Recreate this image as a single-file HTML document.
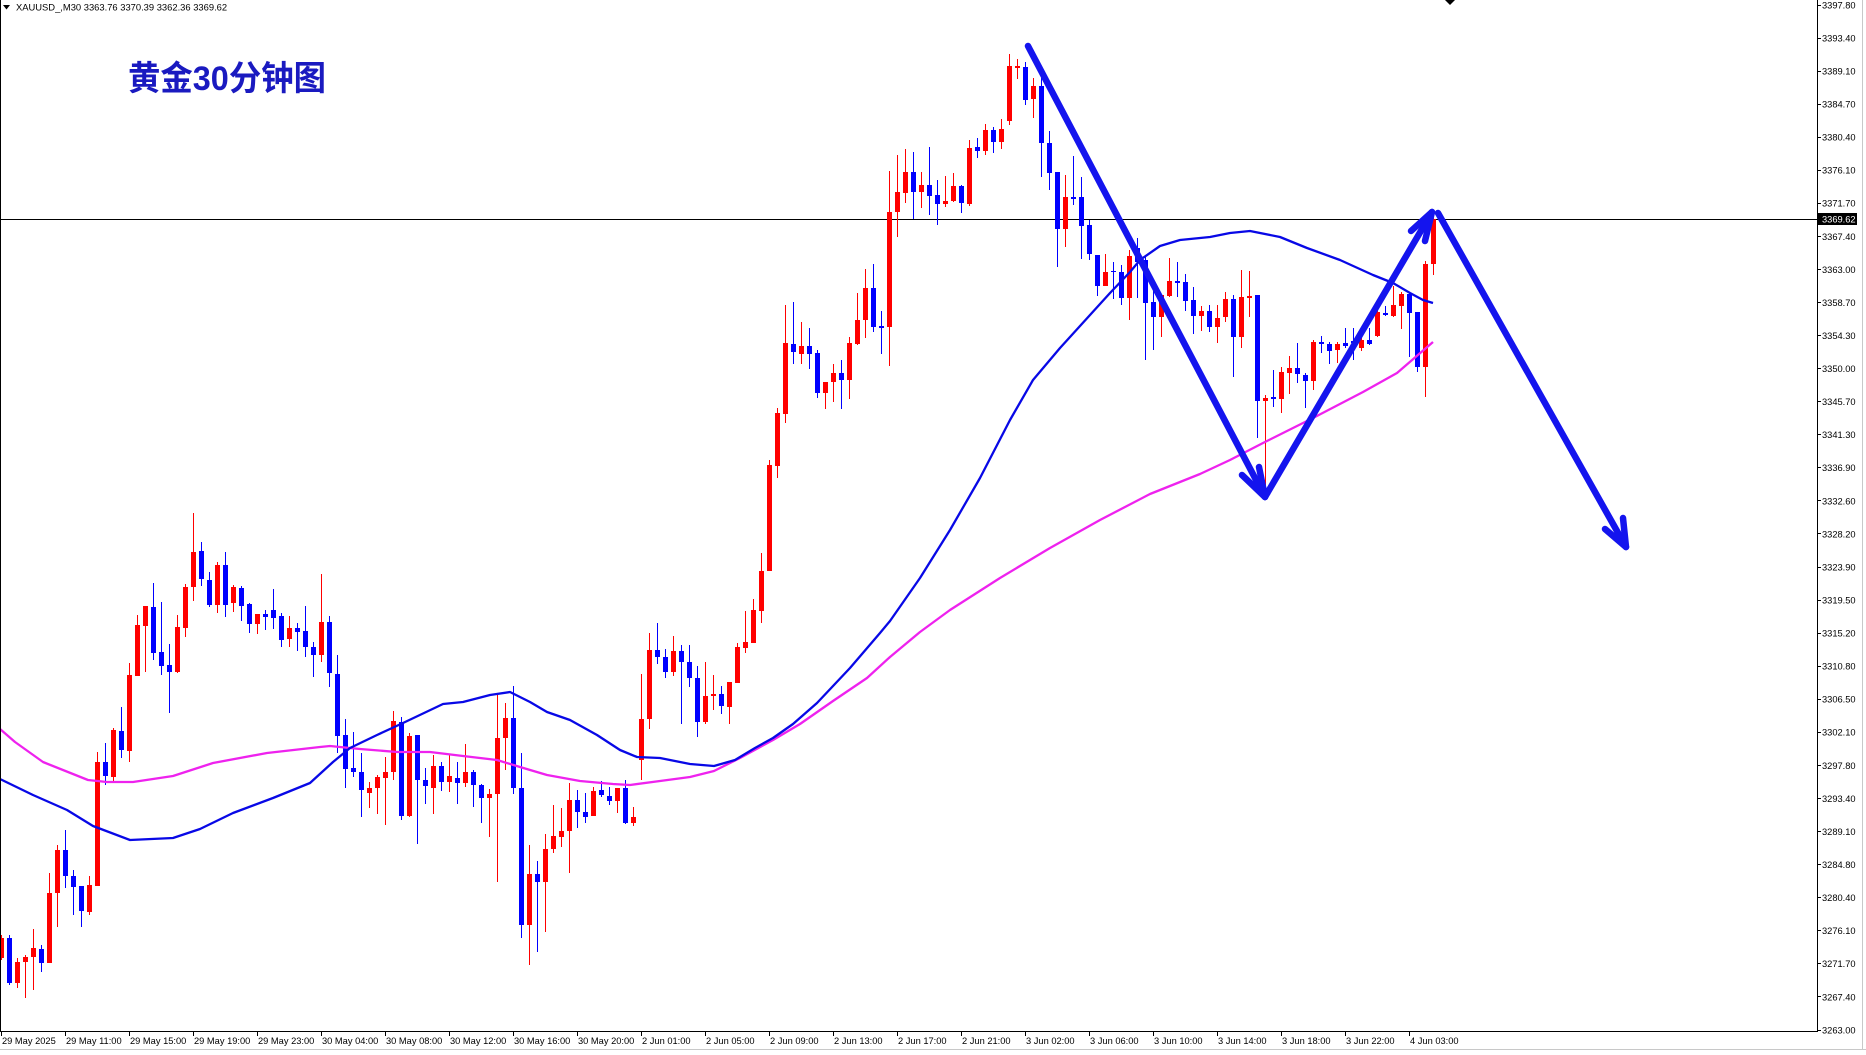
<!DOCTYPE html>
<html><head><meta charset="utf-8"><style>
html,body{margin:0;padding:0;background:#fff;}
svg{display:block;}
.ax{font-family:"Liberation Sans",Arial,sans-serif;font-size:9.3px;fill:#000;}
</style></head><body>
<svg width="1866" height="1055" viewBox="0 0 1866 1055" xmlns="http://www.w3.org/2000/svg">
<rect width="1866" height="1055" fill="#fff"/>
<!-- current price line -->
<line x1="0" y1="219.5" x2="1817" y2="219.5" stroke="#000" stroke-width="1"/>
<!-- candles -->
<path fill="#ff0000" d="M1 935h1V960h-1Z M-1 938h5V958h-5Z
M17 958h1V988h-1Z M15 962h5V983h-5Z M25 955h1V998h-1Z M23 957h5V962h-5Z M33 929h1V990h-1Z M31 948h5V957h-5Z
M49 873h1V963h-1Z M47 893h5V963h-5Z M57 845h1V927h-1Z M55 850h5V893h-5Z M89 876h1V915h-1Z M87 885h5V912h-5Z
M97 752h1V886h-1Z M95 762h5V886h-5Z M113 728h1V782h-1Z M111 730h5V777h-5Z M129 663h1V762h-1Z M127 675h5V751h-5Z
M137 615h1V676h-1Z M135 625h5V676h-5Z M145 606h1V672h-1Z M143 606h5V626h-5Z M177 615h1V673h-1Z M175 627h5V672h-5Z
M185 584h1V637h-1Z M183 587h5V628h-5Z M193 513h1V601h-1Z M191 552h5V587h-5Z M217 562h1V613h-1Z M215 565h5V605h-5Z
M233 585h1V612h-1Z M231 587h5V603h-5Z M257 614h1V634h-1Z M255 614h5V624h-5Z M289 616h1V647h-1Z M287 628h5V639h-5Z
M321 574h1V662h-1Z M319 622h5V655h-5Z M369 782h1V808h-1Z M367 788h5V793h-5Z M377 775h1V814h-1Z M375 777h5V788h-5Z
M385 757h1V825h-1Z M383 772h5V778h-5Z M393 711h1V780h-1Z M391 721h5V772h-5Z M409 733h1V817h-1Z M407 736h5V816h-5Z
M433 755h1V814h-1Z M431 766h5V788h-5Z M449 755h1V792h-1Z M447 776h5V782h-5Z M465 744h1V787h-1Z M463 772h5V783h-5Z
M489 789h1V837h-1Z M487 794h5V798h-5Z M497 695h1V882h-1Z M495 738h5V794h-5Z M505 703h1V770h-1Z M503 718h5V738h-5Z
M529 845h1V965h-1Z M527 874h5V925h-5Z M545 834h1V932h-1Z M543 849h5V882h-5Z M553 805h1V853h-1Z M551 836h5V849h-5Z
M561 808h1V847h-1Z M559 831h5V837h-5Z M569 783h1V873h-1Z M567 800h5V831h-5Z M593 787h1V816h-1Z M591 791h5V816h-5Z
M617 788h1V813h-1Z M615 788h5V801h-5Z M633 807h1V826h-1Z M631 817h5V823h-5Z M641 674h1V780h-1Z M639 719h5V760h-5Z
M649 633h1V729h-1Z M647 650h5V719h-5Z M673 636h1V676h-1Z M671 651h5V672h-5Z M705 662h1V724h-1Z M703 696h5V722h-5Z
M713 675h1V710h-1Z M711 694h5V696h-5Z M729 682h1V724h-1Z M727 682h5V707h-5Z M737 643h1V683h-1Z M735 647h5V683h-5Z
M745 611h1V653h-1Z M743 642h5V648h-5Z M753 599h1V643h-1Z M751 610h5V643h-5Z M761 553h1V623h-1Z M759 571h5V611h-5Z
M769 460h1V571h-1Z M767 465h5V571h-5Z M777 408h1V478h-1Z M775 413h5V466h-5Z M785 305h1V423h-1Z M783 343h5V414h-5Z
M801 322h1V364h-1Z M799 346h5V354h-5Z M825 382h1V409h-1Z M823 382h5V393h-5Z M833 364h1V402h-1Z M831 373h5V382h-5Z
M849 337h1V399h-1Z M847 343h5V380h-5Z M857 293h1V345h-1Z M855 320h5V344h-5Z M865 269h1V338h-1Z M863 288h5V320h-5Z
M889 171h1V366h-1Z M887 212h5V327h-5Z M897 155h1V237h-1Z M895 192h5V212h-5Z M905 149h1V203h-1Z M903 172h5V193h-5Z
M921 172h1V208h-1Z M919 185h5V192h-5Z M945 176h1V207h-1Z M943 201h5V204h-5Z M953 173h1V202h-1Z M951 186h5V201h-5Z
M969 140h1V206h-1Z M967 148h5V204h-5Z M985 124h1V155h-1Z M983 130h5V151h-5Z M1001 119h1V149h-1Z M999 129h5V142h-5Z
M1009 54h1V125h-1Z M1007 66h5V121h-5Z M1017 59h1V79h-1Z M1015 66h5V68h-5Z M1033 78h1V118h-1Z M1031 86h5V99h-5Z
M1065 175h1V247h-1Z M1063 197h5V229h-5Z M1105 254h1V286h-1Z M1103 272h5V286h-5Z M1129 250h1V320h-1Z M1127 256h5V298h-5Z
M1161 295h1V337h-1Z M1159 295h5V317h-5Z M1169 258h1V297h-1Z M1167 281h5V296h-5Z M1201 306h1V331h-1Z M1199 311h5V316h-5Z
M1217 305h1V343h-1Z M1215 318h5V327h-5Z M1225 292h1V322h-1Z M1223 299h5V317h-5Z M1241 270h1V348h-1Z M1239 297h5V337h-5Z
M1249 271h1V317h-1Z M1247 296h5V298h-5Z M1265 395h1V493h-1Z M1263 398h5V401h-5Z M1281 367h1V413h-1Z M1279 372h5V399h-5Z
M1289 356h1V394h-1Z M1287 368h5V373h-5Z M1313 340h1V390h-1Z M1311 342h5V381h-5Z M1337 342h1V363h-1Z M1335 344h5V350h-5Z
M1361 337h1V351h-1Z M1359 340h5V348h-5Z M1377 305h1V337h-1Z M1375 312h5V336h-5Z M1393 286h1V317h-1Z M1391 305h5V316h-5Z
M1401 292h1V329h-1Z M1399 294h5V306h-5Z M1425 261h1V397h-1Z M1423 264h5V367h-5Z M1433 213h1V275h-1Z M1431 219h5V264h-5Z"/>
<path fill="#0000ff" d="M9 935h1V985h-1Z M7 938h5V983h-5Z M41 945h1V972h-1Z M39 949h5V963h-5Z
M65 830h1V888h-1Z M63 850h5V876h-5Z M73 870h1V915h-1Z M71 876h5V887h-5Z M81 886h1V927h-1Z M79 886h5V911h-5Z
M105 743h1V785h-1Z M103 762h5V776h-5Z M121 707h1V758h-1Z M119 731h5V750h-5Z M153 583h1V660h-1Z M151 607h5V653h-5Z
M161 602h1V675h-1Z M159 652h5V666h-5Z M169 644h1V713h-1Z M167 665h5V672h-5Z M201 542h1V586h-1Z M199 551h5V579h-5Z
M209 572h1V607h-1Z M207 580h5V605h-5Z M225 552h1V617h-1Z M223 565h5V605h-5Z M241 586h1V621h-1Z M239 588h5V606h-5Z
M249 603h1V633h-1Z M247 604h5V624h-5Z M265 610h1V630h-1Z M263 614h5V617h-5Z M273 589h1V629h-1Z M271 610h5V618h-5Z
M281 613h1V647h-1Z M279 616h5V640h-5Z M297 623h1V651h-1Z M295 628h5V632h-5Z M305 606h1V657h-1Z M303 631h5V647h-5Z
M313 642h1V677h-1Z M311 647h5V655h-5Z M329 616h1V687h-1Z M327 622h5V673h-5Z M337 655h1V753h-1Z M335 674h5V736h-5Z
M345 719h1V788h-1Z M343 735h5V769h-5Z M353 732h1V777h-1Z M351 768h5V772h-5Z M361 753h1V817h-1Z M359 772h5V790h-5Z
M401 717h1V820h-1Z M399 722h5V816h-5Z M417 735h1V844h-1Z M415 735h5V780h-5Z M425 768h1V804h-1Z M423 780h5V786h-5Z
M441 762h1V791h-1Z M439 766h5V782h-5Z M457 762h1V804h-1Z M455 778h5V783h-5Z M473 770h1V807h-1Z M471 772h5V785h-5Z
M481 784h1V823h-1Z M479 785h5V798h-5Z M513 686h1V794h-1Z M511 718h5V788h-5Z M521 753h1V938h-1Z M519 788h5V925h-5Z
M537 861h1V952h-1Z M535 874h5V882h-5Z M577 790h1V828h-1Z M575 800h5V812h-5Z M585 793h1V823h-1Z M583 812h5V817h-5Z
M601 781h1V797h-1Z M599 790h5V795h-5Z M609 787h1V805h-1Z M607 796h5V801h-5Z M625 780h1V824h-1Z M623 788h5V823h-5Z
M657 623h1V664h-1Z M655 650h5V657h-5Z M665 649h1V678h-1Z M663 657h5V672h-5Z M681 645h1V724h-1Z M679 651h5V662h-5Z
M689 645h1V687h-1Z M687 662h5V678h-5Z M697 666h1V737h-1Z M695 678h5V722h-5Z M721 686h1V714h-1Z M719 694h5V706h-5Z
M793 302h1V364h-1Z M791 344h5V352h-5Z M809 328h1V369h-1Z M807 346h5V354h-5Z M817 350h1V398h-1Z M815 353h5V393h-5Z
M841 360h1V409h-1Z M839 373h5V380h-5Z M873 264h1V332h-1Z M871 288h5V327h-5Z M881 311h1V354h-1Z M879 326h5V328h-5Z
M913 152h1V219h-1Z M911 172h5V192h-5Z M929 147h1V215h-1Z M927 185h5V196h-5Z M937 180h1V225h-1Z M935 195h5V204h-5Z
M961 185h1V213h-1Z M959 186h5V203h-5Z M977 138h1V158h-1Z M975 147h5V151h-5Z M993 127h1V153h-1Z M991 130h5V142h-5Z
M1025 62h1V105h-1Z M1023 67h5V100h-5Z M1041 78h1V177h-1Z M1039 86h5V143h-5Z M1049 131h1V190h-1Z M1047 143h5V173h-5Z
M1057 172h1V267h-1Z M1055 172h5V229h-5Z M1073 156h1V205h-1Z M1071 197h5V199h-5Z M1081 177h1V259h-1Z M1079 197h5V226h-5Z
M1089 220h1V260h-1Z M1087 225h5V254h-5Z M1097 255h1V296h-1Z M1095 255h5V286h-5Z M1113 262h1V299h-1Z M1111 271h5V272h-5Z
M1121 265h1V305h-1Z M1119 272h5V298h-5Z M1137 238h1V298h-1Z M1135 248h5V262h-5Z M1145 255h1V360h-1Z M1143 260h5V303h-5Z
M1153 287h1V350h-1Z M1151 302h5V317h-5Z M1177 262h1V297h-1Z M1175 281h5V283h-5Z M1185 274h1V311h-1Z M1183 282h5V301h-5Z
M1193 287h1V334h-1Z M1191 300h5V316h-5Z M1209 305h1V332h-1Z M1207 311h5V327h-5Z M1233 295h1V377h-1Z M1231 299h5V337h-5Z
M1257 295h1V438h-1Z M1255 295h5V401h-5Z M1273 370h1V407h-1Z M1271 397h5V399h-5Z M1297 343h1V383h-1Z M1295 368h5V374h-5Z
M1305 373h1V408h-1Z M1303 375h5V381h-5Z M1321 336h1V353h-1Z M1319 342h5V344h-5Z M1329 342h1V364h-1Z M1327 344h5V351h-5Z
M1345 328h1V348h-1Z M1343 343h5V346h-5Z M1353 328h1V360h-1Z M1351 341h5V343h-5Z M1369 328h1V345h-1Z M1367 340h5V344h-5Z
M1385 306h1V316h-1Z M1383 313h5V315h-5Z M1409 292h1V357h-1Z M1407 294h5V313h-5Z M1417 312h1V372h-1Z M1415 312h5V367h-5Z"/>
<!-- moving averages -->
<polyline fill="none" stroke="#ee22ee" stroke-width="2.3" stroke-linejoin="round" points="0,729 15,742 43,762 88,780 107,782 133,782 173,776 213,763 267,753 320,747 330,746 360,749 397,752 430,752 463,756 497,760 520,767 547,775 580,781 613,784 630,785 660,781 690,777 714,771 740,758 773,740 800,724 833,701 867,678 890,657 920,632 950,610 1000,578 1050,548 1100,520 1150,494 1200,474 1230,460 1263,443 1313,418 1363,392 1397,373 1433,342"/>
<polyline fill="none" stroke="#0808e6" stroke-width="2.3" stroke-linejoin="round" points="0,779 33,795 67,810 93,826 130,840 173,838 200,829 233,813 273,798 310,783 333,762 350,748 377,735 403,723 443,704 463,702 490,695 510,692 530,702 547,712 570,720 597,735 620,750 637,757 660,758 690,764 714,766 735,760 755,748 773,738 793,724 817,703 850,668 880,633 890,621 920,578 950,530 980,478 1010,420 1033,380 1060,348 1090,315 1110,293 1130,272 1140,260 1160,246 1180,240 1210,237 1230,233 1250,231 1280,237 1307,248 1340,260 1373,275 1393,283 1410,293 1423,300 1433,303"/>
<!-- hand-drawn arrows -->
<g fill="none" stroke="#1414ee" stroke-width="6.5" stroke-linecap="round" stroke-linejoin="round">
<polyline points="1028,46 1265,497"/>
<polyline points="1242,475 1265,497 1259,467"/>
<polyline points="1265,497 1432,212"/>
<polyline points="1411,231 1432,212 1425,241"/>
<polyline points="1438,213 1626,547"/>
<polyline points="1605,529 1626,547 1623,518"/>
</g>
<!-- frame -->
<line x1="0.5" y1="0" x2="0.5" y2="1031" stroke="#000" stroke-width="1"/>
<line x1="0" y1="1031.5" x2="1818" y2="1031.5" stroke="#000" stroke-width="1"/>
<line x1="1817.5" y1="0" x2="1817.5" y2="1032" stroke="#000" stroke-width="1"/>
<line x1="1862.5" y1="0" x2="1862.5" y2="1049" stroke="#c8c8c8" stroke-width="1"/>
<line x1="0" y1="1049.5" x2="1866" y2="1049.5" stroke="#c8c8c8" stroke-width="1"/>
<!-- chart shift marker -->
<polygon points="1445,0 1455,0 1450,5" fill="#000"/>
<!-- price axis ticks -->
<g stroke="#000" stroke-width="1">
<path d="M1817 5.5h4M1817 38.5h4M1817 71.5h4M1817 104.5h4M1817 137.5h4M1817 170.5h4M1817 203.5h4M1817 236.5h4M1817 269.5h4M1817 302.5h4M1817 335.5h4M1817 368.5h4M1817 401.5h4M1817 434.5h4M1817 467.5h4M1817 500.5h4M1817 533.5h4M1817 567.5h4M1817 600.5h4M1817 633.5h4M1817 666.5h4M1817 699.5h4M1817 732.5h4M1817 765.5h4M1817 798.5h4M1817 831.5h4M1817 864.5h4M1817 897.5h4M1817 930.5h4M1817 963.5h4M1817 996.5h4M1817 1030.5h4"/>
<path d="M1.5 1031v5M65.5 1031v5M129.5 1031v5M193.5 1031v5M257.5 1031v5M321.5 1031v5M385.5 1031v5M449.5 1031v5M513.5 1031v5M577.5 1031v5M641.5 1031v5M705.5 1031v5M769.5 1031v5M833.5 1031v5M897.5 1031v5M961.5 1031v5M1025.5 1031v5M1089.5 1031v5M1153.5 1031v5M1217.5 1031v5M1281.5 1031v5M1345.5 1031v5M1409.5 1031v5"/>
</g>
<g class="ax">
<text x="1822" y="8.3">3397.80</text>
<text x="1822" y="41.4">3393.40</text>
<text x="1822" y="74.4">3389.10</text>
<text x="1822" y="107.5">3384.70</text>
<text x="1822" y="140.6">3380.40</text>
<text x="1822" y="173.6">3376.10</text>
<text x="1822" y="206.7">3371.70</text>
<text x="1822" y="239.8">3367.40</text>
<text x="1822" y="272.8">3363.00</text>
<text x="1822" y="305.9">3358.70</text>
<text x="1822" y="339.0">3354.30</text>
<text x="1822" y="372.0">3350.00</text>
<text x="1822" y="405.1">3345.70</text>
<text x="1822" y="438.1">3341.30</text>
<text x="1822" y="471.2">3336.90</text>
<text x="1822" y="504.3">3332.60</text>
<text x="1822" y="537.3">3328.20</text>
<text x="1822" y="570.4">3323.90</text>
<text x="1822" y="603.5">3319.50</text>
<text x="1822" y="636.5">3315.20</text>
<text x="1822" y="669.6">3310.80</text>
<text x="1822" y="702.7">3306.50</text>
<text x="1822" y="735.7">3302.10</text>
<text x="1822" y="768.8">3297.80</text>
<text x="1822" y="801.9">3293.40</text>
<text x="1822" y="834.9">3289.10</text>
<text x="1822" y="868.0">3284.80</text>
<text x="1822" y="901.1">3280.40</text>
<text x="1822" y="934.1">3276.10</text>
<text x="1822" y="967.2">3271.70</text>
<text x="1822" y="1000.3">3267.40</text>
<text x="1822" y="1033.3">3263.00</text>
</g>
<rect x="1818" y="213" width="39" height="12" fill="#000"/>
<text x="1822" y="222.6" class="ax" style="fill:#fff">3369.62</text>
<g class="ax">
<text x="2" y="1044">29 May 2025</text>
<text x="66" y="1044">29 May 11:00</text>
<text x="130" y="1044">29 May 15:00</text>
<text x="194" y="1044">29 May 19:00</text>
<text x="258" y="1044">29 May 23:00</text>
<text x="322" y="1044">30 May 04:00</text>
<text x="386" y="1044">30 May 08:00</text>
<text x="450" y="1044">30 May 12:00</text>
<text x="514" y="1044">30 May 16:00</text>
<text x="578" y="1044">30 May 20:00</text>
<text x="642" y="1044">2 Jun 01:00</text>
<text x="706" y="1044">2 Jun 05:00</text>
<text x="770" y="1044">2 Jun 09:00</text>
<text x="834" y="1044">2 Jun 13:00</text>
<text x="898" y="1044">2 Jun 17:00</text>
<text x="962" y="1044">2 Jun 21:00</text>
<text x="1026" y="1044">3 Jun 02:00</text>
<text x="1090" y="1044">3 Jun 06:00</text>
<text x="1154" y="1044">3 Jun 10:00</text>
<text x="1218" y="1044">3 Jun 14:00</text>
<text x="1282" y="1044">3 Jun 18:00</text>
<text x="1346" y="1044">3 Jun 22:00</text>
<text x="1410" y="1044">4 Jun 03:00</text>
</g>
<!-- header -->
<polygon points="3,5 10,5 6.5,9.5" fill="#000"/>
<text x="16" y="10.5" class="ax" style="font-size:9.4px">XAUUSD_,M30  3363.76 3370.39 3362.36 3369.62</text>
<!-- title -->
<text x="128" y="90" font-family="'Liberation Sans','Noto Sans CJK SC',sans-serif" font-size="34" font-weight="bold" textLength="198" lengthAdjust="spacingAndGlyphs" fill="#1a1ac0">黄金30分钟图</text>
</svg>
</body></html>
